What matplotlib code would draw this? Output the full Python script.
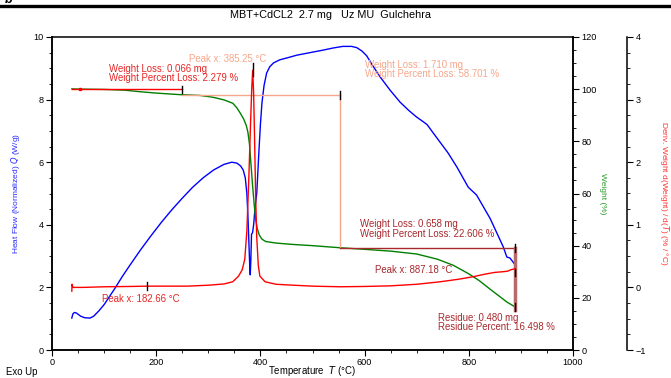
import numpy as np
import matplotlib
matplotlib.use('Agg')
import matplotlib.pyplot as plt
from matplotlib.lines import Line2D
from matplotlib.ticker import MultipleLocator

plt.rcParams['font.family'] = ['Liberation Sans', 'DejaVu Sans']

# Heat flow (W/g) vs temperature
hf_T = [38, 40, 43, 47, 55, 63, 73, 80, 90, 100, 110, 120, 135, 150, 170, 190, 210, 230, 250,
        270, 290, 310, 330, 345, 355, 362, 367, 371, 374, 376, 378, 379.5, 380.5, 381.5, 383,
        385, 387, 390, 393, 397, 400, 403, 407, 412, 418, 425, 437, 455, 470, 495, 520, 540,
        558, 575, 585, 595, 604, 615, 630, 649, 668, 685, 700, 712, 720, 739, 760, 777, 799,
        815, 841, 866, 873, 879, 889]
hf_Q = [1.02, 1.15, 1.2, 1.18, 1.08, 1.03, 1.02, 1.08, 1.25, 1.45, 1.7, 1.95, 2.35, 2.72, 3.2,
        3.65, 4.08, 4.48, 4.85, 5.2, 5.5, 5.75, 5.93, 6.0, 5.97, 5.88, 5.75, 5.5, 5.0, 4.3, 3.4,
        2.7, 2.4, 2.8, 3.7, 3.75, 4.0, 4.6, 5.0, 6.3, 7.2, 7.9, 8.45, 8.85, 9.05, 9.17, 9.27,
        9.35, 9.42, 9.5, 9.58, 9.65, 9.7, 9.7, 9.66, 9.55, 9.4, 9.1, 8.72, 8.3, 7.92, 7.65, 7.44,
        7.3, 7.2, 6.77, 6.3, 5.85, 5.2, 4.95, 4.2, 3.3, 2.97, 2.94, 2.72]

# Weight (%) vs temperature
w_T = [38, 60, 100, 140, 170, 200, 230, 246, 284, 309, 330, 347, 355, 362, 368, 373, 376, 379,
       382, 385, 388, 391, 394, 398, 403, 410, 430, 460, 500, 553, 600, 650, 700, 740, 770, 800,
       820, 841, 860, 873, 889]
w_P = [100.1, 100.0, 99.9, 99.6, 99.0, 98.5, 98.1, 97.9, 97.6, 96.9, 95.9, 94.6, 92.8, 90.6,
       88.5, 86.0, 83.5, 79.0, 71.0, 63.0, 56.0, 50.0, 46.5, 44.0, 42.5, 41.6, 41.0, 40.5, 40.0,
       39.2, 38.6, 37.9, 36.8, 34.8, 32.5, 29.2, 26.6, 23.3, 20.4, 18.4, 16.5]

# Derivative weight (%/°C) vs temperature
d_T = [38, 38.5, 40, 60, 100, 150, 182.66, 220, 260, 300, 330, 347, 358, 365, 370, 374, 378, 381,
       383.5, 385.25, 387, 389, 391, 393, 396, 399, 409, 430, 451, 500, 553, 600, 650, 700, 745,
       780, 808, 830, 850, 865, 875, 880, 885, 889]
d_D = [-0.06, 0.05, 0.0, 0.0, 0.01, 0.015, 0.02, 0.02, 0.02, 0.035, 0.055, 0.09, 0.18, 0.28,
       0.45, 0.9, 1.8, 2.6, 3.2, 3.47, 3.1, 2.3, 1.4, 0.8, 0.35, 0.18, 0.09, 0.05, 0.04, 0.02,
       0.01, 0.015, 0.025, 0.05, 0.09, 0.13, 0.17, 0.21, 0.24, 0.25, 0.26, 0.28, 0.29, 0.3]

# step analysis markers (temperature, weight %)
step1_T = [38, 250]
step1_W = 100.1
step2_T = [250, 553]
step2_W = 97.8
step3_T = [553, 889]
step3_W = 39.1
residue_W = 15.3

fig = plt.figure(figsize=(6.71, 3.78), dpi=100)
ax = fig.add_axes([52/671, 1-350/378, 521/671, 313/378])
ax2 = ax.twinx()
ax3 = ax.twinx()

fs = 6.9
tfs = 6.6
c_blue = '#0000ff'
c_green = '#008000'
c_red = '#ff0000'
c_salmon = '#f6a68a'
c_dark = '#a8282c'

ax.plot(hf_T, hf_Q, color=c_blue, lw=1.0, zorder=3)
ax2.plot(w_T, w_P, color=c_green, lw=1.0)
ax3.plot(d_T, d_D, color=c_red, lw=1.0)

# weight step lines
ax2.plot(step1_T, [step1_W]*2, color=c_red, lw=1.0)
ax2.plot(step2_T, [step2_W]*2, color=c_salmon, lw=1.0)
ax2.plot([step2_T[1]]*2, [step2_W, step3_W], color=c_salmon, lw=1.0)
ax2.plot(step3_T, [step3_W]*2, color=c_dark, lw=1.0)
ax2.plot([step3_T[1]]*2, [step3_W, residue_W], color='#b86a6a', lw=2.5)
for tx, wy in [(250, 99.9), (553, 97.8), (889, 39.1), (889, 29.8), (889, 16.5)]:
    ax2.plot([tx, tx], [wy-1.4, wy+1.4], color='k', lw=1.0)
ax3.plot([385.25]*2, [3.38, 3.58], color='k', lw=1.0)
ax3.plot([182.66]*2, [-0.04, 0.08], color='k', lw=1.0)
ax2.plot([54], [100.1], 's', color=c_red, ms=1.5)

# annotations
ax.text(109, 8.84, 'Weight Loss: 0.066 mg\nWeight Percent Loss: 2.279 %', color='#e82424',
        fontsize=fs, va='center', ha='left', linespacing=0.95)
ax.text(263, 9.31, 'Peak x: 385.25 °C', color=c_salmon, fontsize=fs, va='center', ha='left')
ax.text(601, 8.96, 'Weight Loss: 1.710 mg\nWeight Percent Loss: 58.701 %', color=c_salmon,
        fontsize=fs, va='center', ha='left', linespacing=0.95)
ax.text(591, 3.87, 'Weight Loss: 0.658 mg\nWeight Percent Loss: 22.606 %', color=c_dark,
        fontsize=fs, va='center', ha='left', linespacing=0.95)
ax.text(620, 2.56, 'Peak x: 887.18 °C', color=c_dark, fontsize=fs, va='center', ha='left')
ax.text(741, 0.88, 'Residue: 0.480 mg\nResidue Percent: 16.498 %', color=c_dark,
        fontsize=fs, va='center', ha='left', linespacing=0.95)
ax.text(96, 1.63, 'Peak x: 182.66 °C', color='#e82424', fontsize=fs, va='center', ha='left')

# axes setup
ax.set_xlim(0, 1000)
ax.set_ylim(0, 10)
ax.xaxis.set_major_locator(MultipleLocator(200))
ax.xaxis.set_minor_locator(MultipleLocator(50))
ax.yaxis.set_major_locator(MultipleLocator(2))
ax.yaxis.set_minor_locator(MultipleLocator(0.5))
ax2.set_ylim(0, 120)
ax2.yaxis.set_major_locator(MultipleLocator(20))
ax2.yaxis.set_minor_locator(MultipleLocator(5))
ax3.set_ylim(-1, 4)
ax3.yaxis.set_major_locator(MultipleLocator(1))
ax3.yaxis.set_minor_locator(MultipleLocator(0.25))
ax3.spines['right'].set_position(('axes', 1.104))
for s in ['top', 'left', 'bottom']:
    ax3.spines[s].set_visible(False)
for a in (ax, ax2, ax3):
    for s in a.spines.values():
        s.set_linewidth(1.1)
    a.tick_params(which='major', length=4, width=0.8, labelsize=tfs, pad=2)
    a.tick_params(which='minor', length=2, width=0.6)
ax2.spines['top'].set_visible(False)

ax.set_ylabel('Heat Flow (Normalized) $Q$ (W/g)', color='#2a2aff', fontsize=fs - 0.9, labelpad=8)
ax2.set_ylabel('Weight (%)', color='#2a9a2a', fontsize=fs - 0.9, rotation=270, labelpad=7)
ax3.set_ylabel('Deriv. Weight d(Weight) / d($T$) (% / °C)', color='#ff3030', fontsize=fs - 0.9,
               rotation=270, labelpad=18)

fig.text(312/671, 1-371/378, 'Temperature  $T$ (°C)', fontsize=fs, ha='center', va='center')
fig.text(330/671, 1-15/378, 'MBT+CdCL2  2.7 mg   Uz MU  Gulchehra', fontsize=7.8, ha='center', va='center')
fig.text(6/671, 1-372/378, 'Exo Up', fontsize=fs, ha='left', va='center')
fig.add_artist(Line2D([0, 1], [1-6/378]*2, color='k', lw=2.4))
fig.text(5/671, 1.0, 'b', fontsize=9, weight='bold', style='italic', ha='left', va='center')

fig.savefig('out.png', dpi=100)
